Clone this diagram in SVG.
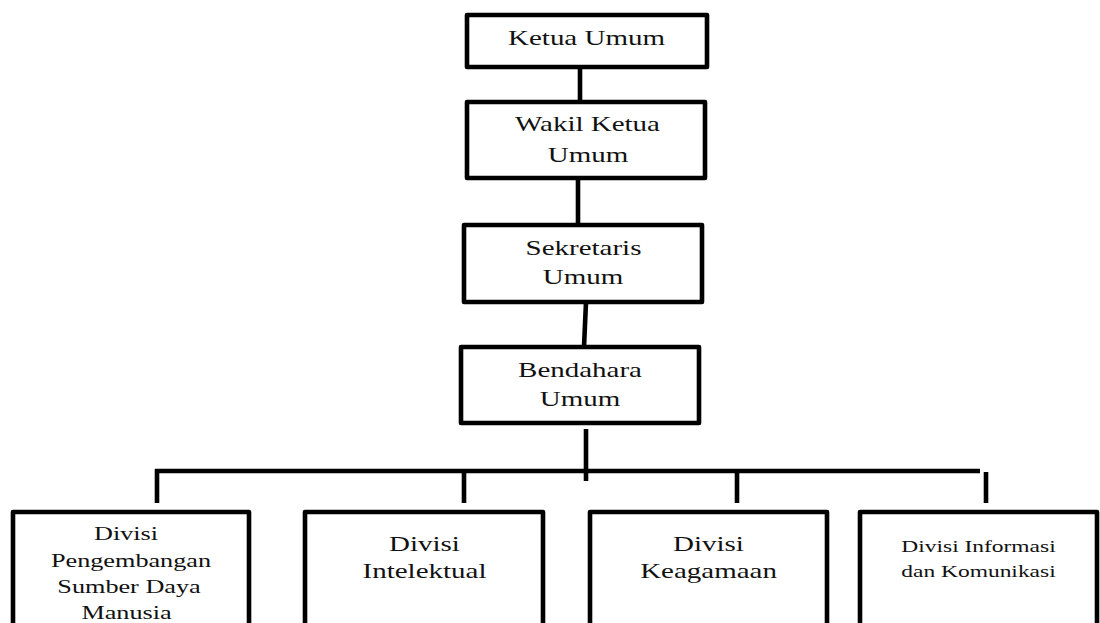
<svg xmlns="http://www.w3.org/2000/svg" width="1100" height="623" viewBox="0 0 1100 623">
<style>
.box{fill:#fff;stroke:#000;stroke-width:4.6;stroke-linejoin:round}
.ln{stroke:#000;stroke-width:4.6;fill:none}
text{font-family:"Liberation Serif","Times New Roman",serif;fill:#111;text-anchor:middle}
.t{font-size:21px}
.s{font-size:19px}
.x{font-size:17px}
</style>
<rect width="1100" height="623" fill="#fff"/>
<g id="connectors">
<line class="ln" x1="580" y1="67" x2="580" y2="102"/>
<line class="ln" x1="578" y1="178" x2="578" y2="225"/>
<line class="ln" x1="586" y1="302" x2="584" y2="347"/>
<line class="ln" x1="586" y1="429" x2="586" y2="481"/>
<line class="ln" x1="155" y1="471" x2="980" y2="471"/>
<line class="ln" x1="157" y1="469" x2="157" y2="503"/>
<line class="ln" x1="464" y1="471" x2="464" y2="503"/>
<line class="ln" x1="737" y1="471" x2="737" y2="503"/>
<line class="ln" x1="986" y1="472" x2="986" y2="503"/>
</g>
<g id="ketua">
<rect class="box" x="467" y="15" width="240" height="52"/>
<text class="t" transform="translate(586.5,45) scale(1.38,1)">Ketua Umum</text>
</g>
<g id="wakil">
<rect class="box" x="467" y="102" width="238" height="76"/>
<text class="t" transform="translate(587.5,131) scale(1.38,1)">Wakil Ketua</text>
<text class="t" transform="translate(588,162) scale(1.38,1)">Umum</text>
</g>
<g id="sekretaris">
<rect class="box" x="464" y="225" width="238" height="77"/>
<text class="t" transform="translate(583.5,255) scale(1.38,1)">Sekretaris</text>
<text class="t" transform="translate(583,284) scale(1.38,1)">Umum</text>
</g>
<g id="bendahara">
<rect class="box" x="461" y="347" width="238" height="76"/>
<text class="t" transform="translate(580,377) scale(1.38,1)">Bendahara</text>
<text class="t" transform="translate(580,406) scale(1.38,1)">Umum</text>
</g>
<g id="psdm">
<rect class="box" x="13" y="512" width="236" height="130"/>
<text class="s" transform="translate(126,540) scale(1.38,1)">Divisi</text>
<text class="s" transform="translate(131,567) scale(1.38,1)">Pengembangan</text>
<text class="s" transform="translate(129,593) scale(1.38,1)">Sumber Daya</text>
<text class="s" transform="translate(126.5,619) scale(1.38,1)">Manusia</text>
</g>
<g id="intelektual">
<rect class="box" x="305" y="512" width="238" height="130"/>
<text class="t" transform="translate(424.5,551) scale(1.38,1)">Divisi</text>
<text class="t" transform="translate(424.5,578) scale(1.38,1)">Intelektual</text>
</g>
<g id="keagamaan">
<rect class="box" x="590" y="512" width="237" height="130"/>
<text class="t" transform="translate(708.5,551) scale(1.38,1)">Divisi</text>
<text class="t" transform="translate(708.5,578) scale(1.38,1)">Keagamaan</text>
</g>
<g id="infokom">
<rect class="box" x="860" y="512" width="237" height="130"/>
<text class="x" transform="translate(978.5,552) scale(1.38,1)">Divisi Informasi</text>
<text class="x" transform="translate(978.5,577) scale(1.38,1)">dan Komunikasi</text>
</g>
</svg>
